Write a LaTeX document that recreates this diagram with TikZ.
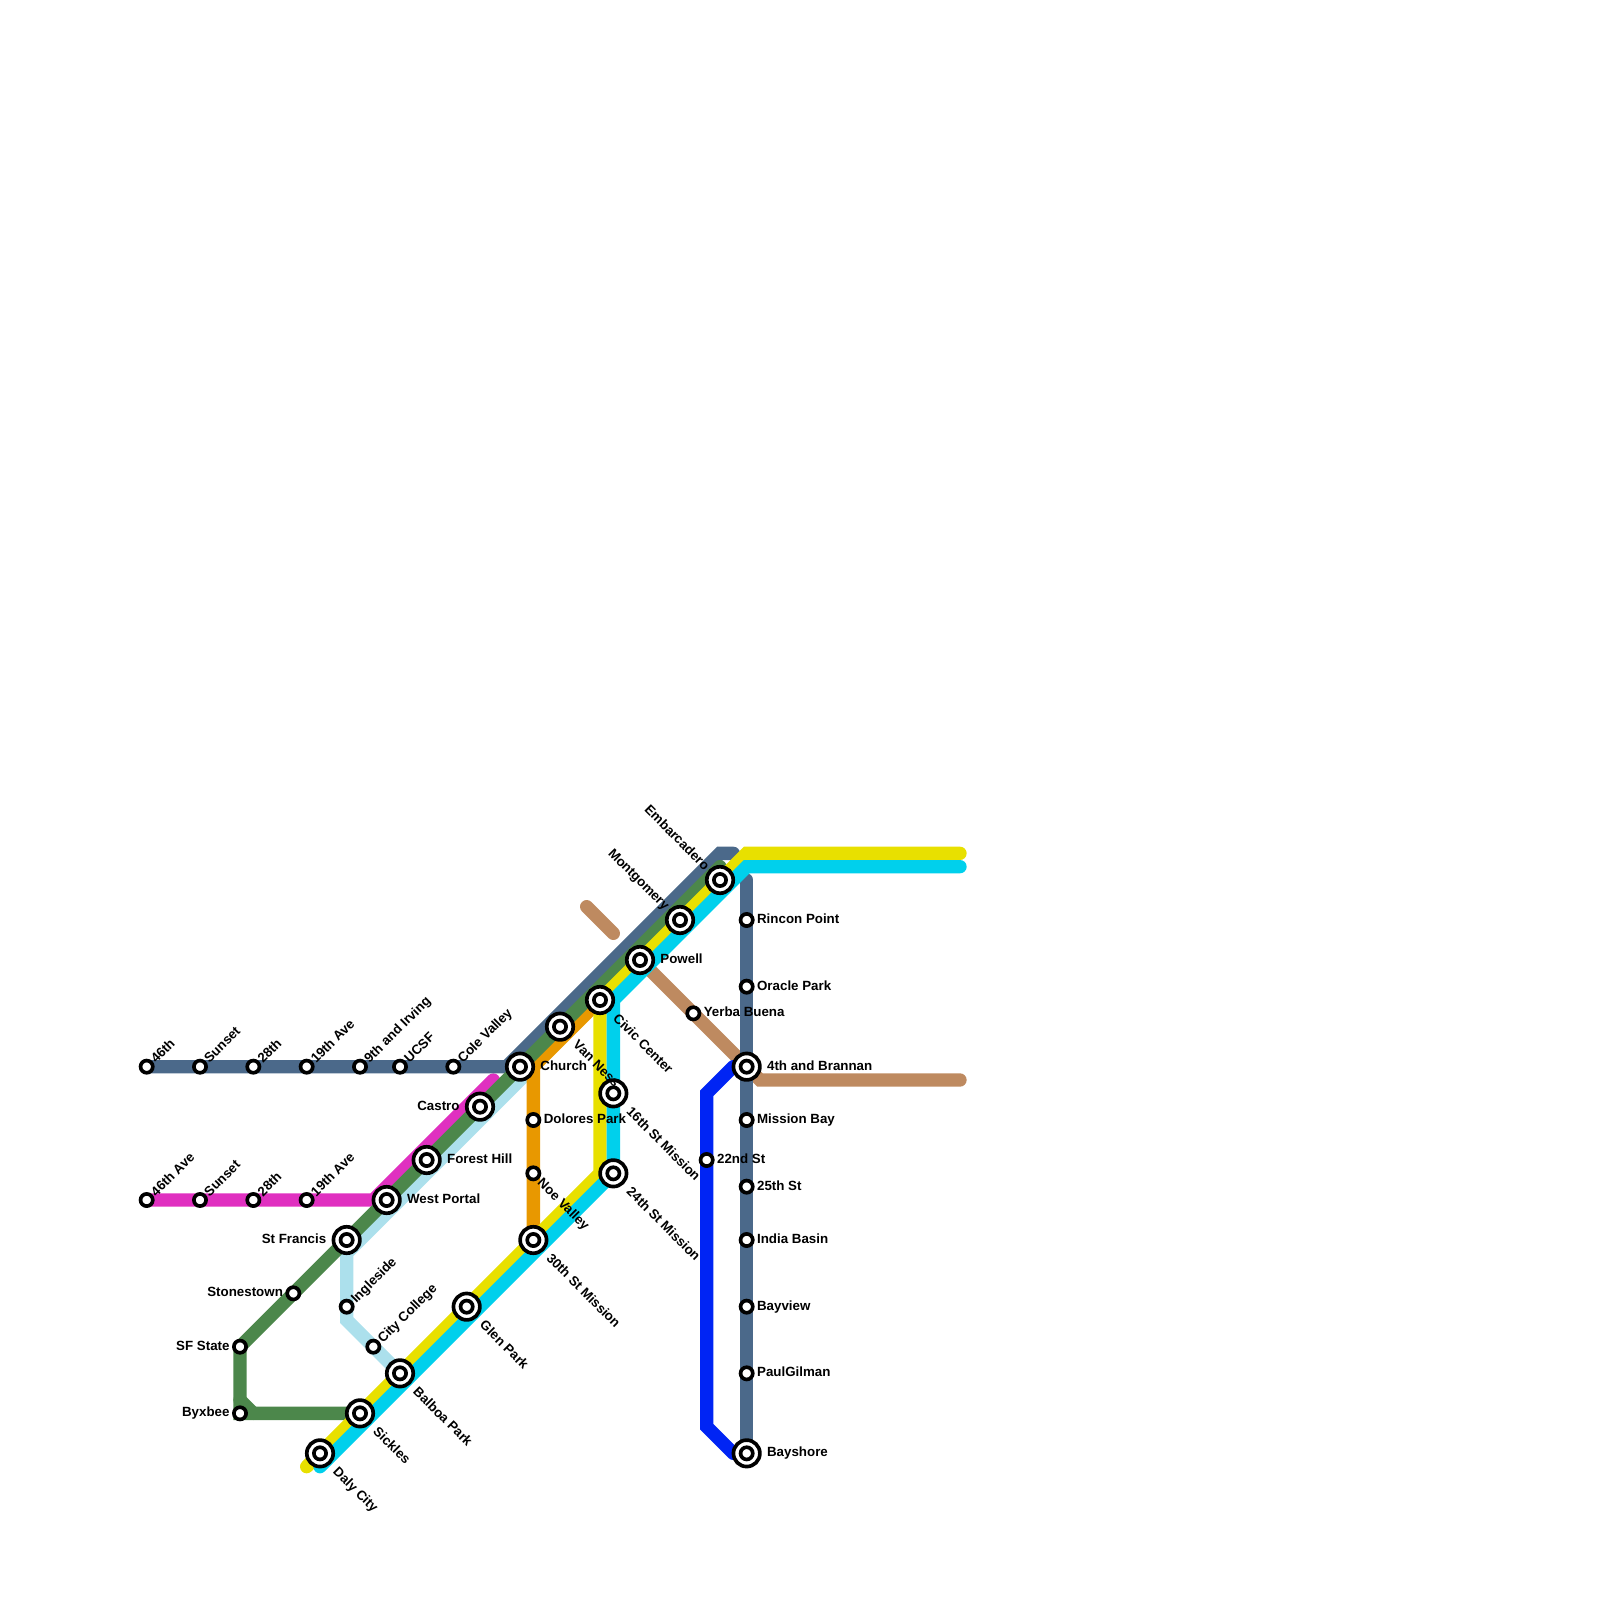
\documentclass[tikz,border=0pt]{standalone}
\usepackage{fontspec}
\setmainfont{Liberation Sans}
\usetikzlibrary{backgrounds}
\definecolor{slate}{RGB}{75,105,138}
\definecolor{fern}{RGB}{76,135,75}
\definecolor{lemon}{RGB}{232,224,0}
\definecolor{aqua}{RGB}{0,208,236}
\definecolor{amber}{RGB}{232,152,0}
\definecolor{powder}{RGB}{172,224,236}
\definecolor{orchid}{RGB}{224,48,192}
\definecolor{clay}{RGB}{190,138,96}
\definecolor{cobalt}{RGB}{0,36,244}
\tikzset{
  stop/.style={circle, draw=black, fill=white, line width=1.65pt, minimum size=5.5pt, inner sep=0pt},
  hub/.style={circle, draw=black, fill=white, line width=1.65pt, minimum size=11.9pt, inner sep=0pt,
    path picture={\draw[line width=1.65pt] (path picture bounding box.center) circle (2.75pt);}},
  tag/.style={inner sep=0pt, text height=4.3pt, text depth=0pt, font=\fontsize{6}{6}\selectfont\bfseries},
  tagright/.style={tag, anchor=west, xshift=#1, yshift=0.6pt},
  tagleft/.style={tag, anchor=east, xshift=-#1, yshift=0.6pt},
  tagup/.style={tag, anchor=west, xshift=#1, yshift=#1, rotate=45},
  tagdown/.style={tag, anchor=west, xshift=#1, yshift=-#1, rotate=-45},
  tagback/.style={tag, anchor=east, xshift=-#1, yshift=#1, rotate=-45},
  route/.style={line width=6pt, line cap=round}
}
\begin{document}
\begin{tikzpicture}[x=6pt,y=-6pt]
\useasboundingbox (0,0) rectangle (120,120);
\node[stop] (nfortysix) at (11,80) {};
\node[stop] (nsunset) at (15,80) {};
\node[stop] (ntwentyeight) at (19,80) {};
\node[stop] (nnineteen) at (23,80) {};
\node[stop] (nirving) at (27,80) {};
\node[stop] (ucsf) at (30,80) {};
\node[stop] (cole) at (34,80) {};
\node[hub] (church) at (39,80) {};
\node[hub] (castro) at (36,83) {};
\node[hub] (forest) at (32,87) {};
\node[hub] (portal) at (29,90) {};
\node[hub] (francis) at (26,93) {};
\node[stop] (sfortysix) at (11,90) {};
\node[stop] (ssunset) at (15,90) {};
\node[stop] (stwentyeight) at (19,90) {};
\node[stop] (snineteen) at (23,90) {};
\node[stop] (stones) at (22,97) {};
\node[stop] (sfstate) at (18,101) {};
\node[stop] (byxbee) at (18,106) {};
\node[stop] (ingle) at (26,98) {};
\node[stop] (college) at (28,101) {};
\node[hub] (balboa) at (30,103) {};
\node[hub] (sickles) at (27,106) {};
\node[hub] (daly) at (24,109) {};
\node[hub] (glen) at (35,98) {};
\node[hub] (thirtieth) at (40,93) {};
\node[stop] (dolores) at (40,84) {};
\node[stop] (noe) at (40,88) {};
\node[hub] (vanness) at (42,77) {};
\node[hub] (civic) at (45,75) {};
\node[hub] (sixteenth) at (46,82) {};
\node[hub] (twentyfourth) at (46,88) {};
\node[hub] (powell) at (48,72) {};
\node[hub] (montgomery) at (51,69) {};
\node[hub] (embarcadero) at (54,66) {};
\node[stop] (yerba) at (52,76) {};
\node[stop] (twentysecond) at (53,87) {};
\node[stop] (rincon) at (56,69) {};
\node[stop] (oracle) at (56,74) {};
\node[hub] (brannan) at (56,80) {};
\node[stop] (missionbay) at (56,84) {};
\node[stop] (twentyfifth) at (56,89) {};
\node[stop] (india) at (56,93) {};
\node[stop] (bayview) at (56,98) {};
\node[stop] (gilman) at (56,103) {};
\node[hub] (bayshore) at (56,109) {};
\node[tagup=2.7pt] (nfortysixt) at (nfortysix) {46th};
\node[tagup=2.7pt] (nsunsett) at (nsunset) {Sunset};
\node[tagup=2.7pt] (ntwentyeightt) at (ntwentyeight) {28th};
\node[tagup=2.7pt] (nnineteent) at (nnineteen) {19th Ave};
\node[tagup=2.7pt] (nirvingt) at (nirving) {9th and Irving};
\node[tagup=2.7pt] (ucsft) at (ucsf) {UCSF};
\node[tagup=2.7pt] (colet) at (cole) {Cole Valley};
\node[tagup=2.7pt] (sfortysixt) at (sfortysix) {46th Ave};
\node[tagup=2.7pt] (ssunsett) at (ssunset) {Sunset};
\node[tagup=2.7pt] (stwentyeightt) at (stwentyeight) {28th};
\node[tagup=2.7pt] (snineteent) at (snineteen) {19th Ave};
\node[tagup=2.7pt] (inglet) at (ingle) {Ingleside};
\node[tagup=2.7pt] (collegot) at (college) {City College};
\node[tagright=9pt] (churcht) at (church) {Church};
\node[tagright=9pt] (forestt) at (forest) {Forest Hill};
\node[tagright=9pt] (portalt) at (portal) {West Portal};
\node[tagright=9pt] (powellt) at (powell) {Powell};
\node[tagright=9pt] (brannant) at (brannan) {4th and Brannan};
\node[tagright=9pt] (bayshoret) at (bayshore) {Bayshore};
\node[tagright=4.5pt] (dolorest) at (dolores) {Dolores Park};
\node[tagright=4.5pt] (yerbat) at (yerba) {Yerba Buena};
\node[tagright=4.5pt] (twentysecondt) at (twentysecond) {22nd St};
\node[tagright=4.5pt] (rincont) at (rincon) {Rincon Point};
\node[tagright=4.5pt] (oraclet) at (oracle) {Oracle Park};
\node[tagright=4.5pt] (missionbayt) at (missionbay) {Mission Bay};
\node[tagright=4.5pt] (twentyfiftht) at (twentyfifth) {25th St};
\node[tagright=4.5pt] (indiat) at (india) {India Basin};
\node[tagright=4.5pt] (bayviewt) at (bayview) {Bayview};
\node[tagright=4.5pt] (gilmant) at (gilman) {PaulGilman};
\node[tagleft=9pt] (castrot) at (castro) {Castro};
\node[tagleft=9pt] (francist) at (francis) {St Francis};
\node[tagleft=4.5pt] (stonest) at (stones) {Stonestown};
\node[tagleft=4.5pt] (sfstatet) at (sfstate) {SF State};
\node[tagleft=4.5pt] (byxbeet) at (byxbee) {Byxbee};
\node[tagdown=3pt] (noet) at (noe) {Noe Valley};
\node[tagdown=7pt] (dalyt) at (daly) {Daly City};
\node[tagdown=7pt] (sicklest) at (sickles) {Sickles};
\node[tagdown=7pt] (balboat) at (balboa) {Balboa Park};
\node[tagdown=7pt] (glent) at (glen) {Glen Park};
\node[tagdown=7pt] (thirtietht) at (thirtieth) {30th St Mission};
\node[tagdown=7pt] (vannesst) at (vanness) {Van Ness};
\node[tagdown=7pt] (civict) at (civic) {Civic Center};
\node[tagdown=7pt] (sixteentht) at (sixteenth) {16th St Mission};
\node[tagdown=7pt] (twentyfourtht) at (twentyfourth) {24th St Mission};
\node[tagback=5.5pt] (embarcaderot) at (embarcadero) {Embarcadero};
\node[tagback=5.5pt] (montgomeryt) at (montgomery) {Montgomery};
\coordinate (slatebendA) at (38,80);
\coordinate (slatebendB) at (54,64);
\coordinate (slateend) at (55,64);
\coordinate (slatetop) at (56,66);
\coordinate (fernend) at (54,65);
\coordinate (fernbend) at (18,105);
\coordinate (fernbendB) at (19,106);
\coordinate (lemonend) at (23,110);
\coordinate (lemonbendA) at (45,88);
\coordinate (lemonbendB) at (45,75);
\coordinate (lemonbendC) at (56,64);
\coordinate (lemontip) at (72,64);
\coordinate (aquaend) at (24,110);
\coordinate (aquabendB) at (46,75);
\coordinate (aquabendC) at (56,65);
\coordinate (aquatip) at (72,65);
\coordinate (amberbend) at (40,80);
\coordinate (powderbendA) at (26,94);
\coordinate (powderbendB) at (26,99);
\coordinate (orchidbend) at (28,90);
\coordinate (orchidend) at (37,81);
\coordinate (clayA) at (44,68);
\coordinate (clayB) at (46,70);
\coordinate (claybend) at (57,81);
\coordinate (claytip) at (72,81);
\coordinate (cobaltA) at (55,80);
\coordinate (cobaltbendA) at (53,82);
\coordinate (cobaltbendB) at (53,107);
\coordinate (cobaltB) at (55,109);
\begin{pgfonlayer}{background}
\draw[route, clay] (clayA) -- (clayB);
\draw[route, clay] (powell.center) -- (brannan.center) -- (claybend) -- (claytip);
\draw[route, powder] (amberbend) -- (powderbendA) -- (powderbendB) -- (balboa.center);
\draw[route, orchid] (sfortysix.center) -- (orchidbend) -- (orchidend);
\draw[route, slate] (nfortysix.center) -- (slatebendA) -- (slatebendB) -- (slateend);
\draw[route, slate] (slatetop) -- (bayshore.center);
\draw[route, amber] (thirtieth.center) -- (amberbend) -- (lemonbendB);
\draw[route, fern] (fernend) -- (sfstate.center) -- (byxbee.center) -- (sickles.center);
\draw[route, fern] (fernbend) -- (fernbendB);
\draw[route, lemon] (lemonend) -- (lemonbendA) -- (lemonbendB) -- (lemonbendC) -- (lemontip);
\draw[route, aqua] (aquaend) -- (twentyfourth.center) -- (aquabendB) -- (aquabendC) -- (aquatip);
\draw[route, cobalt] (cobaltA) -- (cobaltbendA) -- (cobaltbendB) -- (cobaltB);
\end{pgfonlayer}
\end{tikzpicture}
\end{document}
